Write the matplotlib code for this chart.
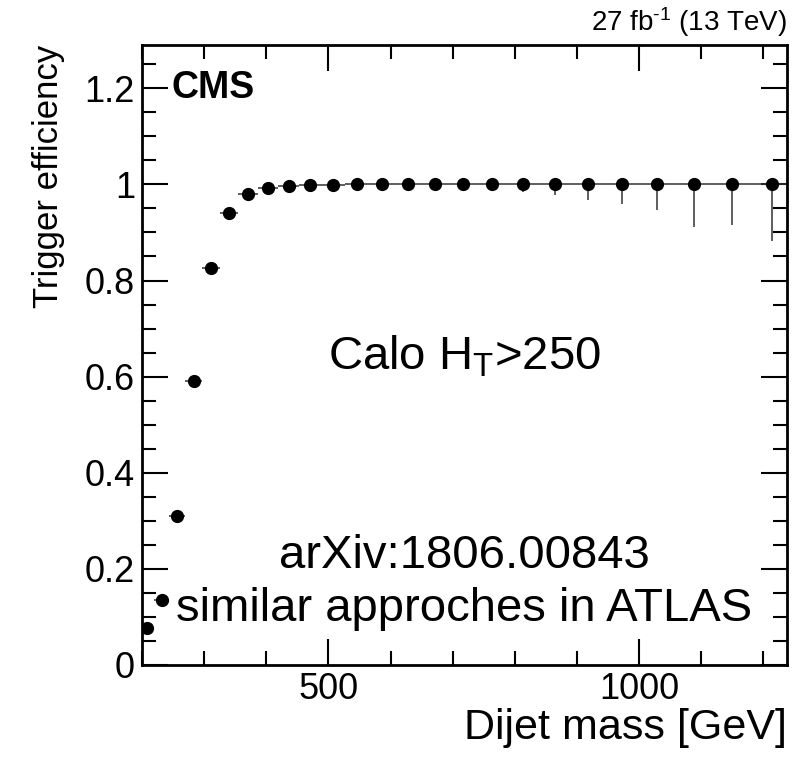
import matplotlib
matplotlib.use("Agg")
import matplotlib.pyplot as plt
import numpy as np
from matplotlib.ticker import MultipleLocator

plt.rcParams["font.family"] = ["Liberation Sans", "DejaVu Sans"]
plt.rcParams["mathtext.fontset"] = "custom"
plt.rcParams["mathtext.rm"] = "Liberation Sans"
plt.rcParams["mathtext.default"] = "regular"

# dijet mass bin edges [GeV]
bin_edges = [197, 220, 244, 270, 296, 325, 354, 386, 419, 453, 489, 526, 565,
             606, 649, 693, 740, 788, 838, 890, 944, 1000, 1058, 1118, 1181, 1246]

# trigger efficiency per bin
efficiency = [0.077, 0.135, 0.310, 0.590, 0.827, 0.940, 0.981, 0.992, 0.996,
              0.998, 0.999, 1.0, 1.0, 1.0, 1.0, 1.0, 1.0, 1.0, 1.0, 1.0,
              1.0, 1.0, 1.0, 1.0, 1.0]

# lower / upper uncertainties
err_low = [0.004, 0.004, 0.004, 0.004, 0.004, 0.004, 0.004, 0.003, 0.003,
           0.003, 0.003, 0.003, 0.004, 0.005, 0.006, 0.008, 0.010, 0.015,
           0.022, 0.033, 0.040, 0.053, 0.089, 0.085, 0.117]
err_high = [0.004, 0.004, 0.004, 0.004, 0.004, 0.004, 0.004, 0.003, 0.003,
            0.002, 0.001, 0.0, 0.0, 0.0, 0.0, 0.0, 0.0, 0.0, 0.0, 0.0,
            0.0, 0.0, 0.0, 0.0, 0.0]

edges = np.array(bin_edges, dtype=float)
centers = 0.5 * (edges[1:] + edges[:-1])
half_width = 0.5 * (edges[1:] - edges[:-1])

fig = plt.figure(figsize=(8.09, 7.59), dpi=100)
ax = fig.add_axes([142 / 809, 94 / 759, 645 / 809, 620 / 759])

ax.errorbar(centers, efficiency, xerr=half_width, yerr=[err_low, err_high],
            fmt="o", color="black", ecolor="#333333", ms=8.5, elinewidth=1.1,
            capsize=0)

ax.set_xlim(200, 1238)
ax.set_ylim(0, 1.29)

ax.xaxis.set_major_locator(MultipleLocator(500))
ax.xaxis.set_minor_locator(MultipleLocator(100))
ax.yaxis.set_major_locator(MultipleLocator(0.2))
ax.yaxis.set_minor_locator(MultipleLocator(0.05))
ax.yaxis.set_major_formatter(
    matplotlib.ticker.FuncFormatter(lambda v, p: f"{v:g}"))

ax.tick_params(which="both", direction="in", top=True, right=True,
               width=1.5, labelsize=26)
ax.tick_params(which="major", length=19, pad=5)
ax.tick_params(which="minor", length=10)
for s in ax.spines.values():
    s.set_linewidth(2)

ax.set_xlabel("Dijet mass [GeV]", fontsize=31, loc="right", labelpad=1)
ax.set_ylabel("Trigger efficiency", fontsize=25, loc="top", labelpad=14)

ax.text(0.045, 0.96, "CMS", transform=ax.transAxes, fontsize=27,
        fontweight="bold", va="top", ha="left")
ax.text(1.0, 1.01, "27 fb$^{\u2010 1}$ (13 TeV)", transform=ax.transAxes,
        fontsize=20, ha="right", va="bottom")

ax.text(0.5, 0.497, "Calo H$_T$>250", transform=ax.transAxes,
        fontsize=34, ha="center", va="center")
ax.text(0.5, 0.175, "arXiv:1806.00843", transform=ax.transAxes,
        fontsize=34, ha="center", va="center")
ax.text(0.5, 0.09, "similar approches in ATLAS", transform=ax.transAxes,
        fontsize=34, ha="center", va="center")

fig.savefig("out.png", dpi=100)
